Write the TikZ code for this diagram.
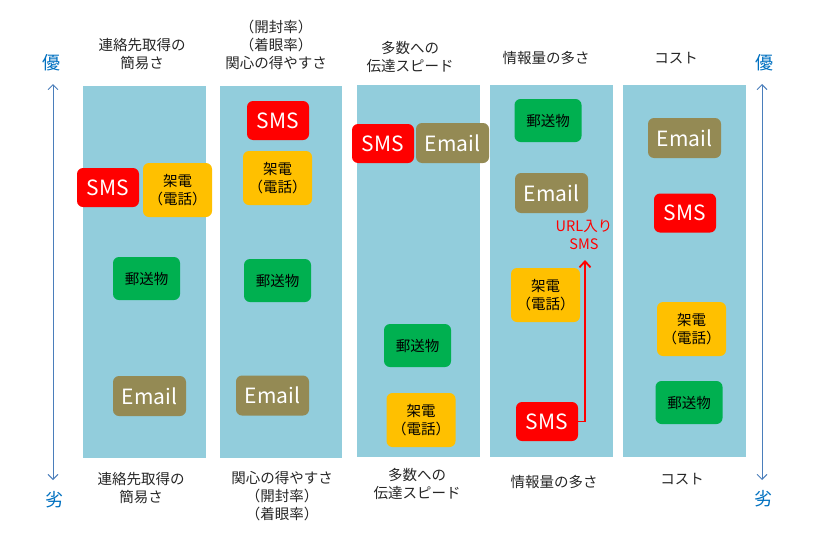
\documentclass[tikz,border=0pt]{standalone}
\usepackage{fontspec}
\setmainfont{Noto Sans CJK JP}
\usetikzlibrary{arrows.meta}
\definecolor{colbg}{HTML}{92CDDC}
\definecolor{smsred}{HTML}{FF0000}
\definecolor{telyel}{HTML}{FFC000}
\definecolor{mailgrn}{HTML}{00B050}
\definecolor{emolive}{HTML}{948A54}
\definecolor{axisblue}{HTML}{4A7EBB}
\definecolor{axistext}{HTML}{0070C0}
\definecolor{hdrtext}{HTML}{262626}
\tikzset{
  colrect/.style={fill=colbg, draw=none},
  itembox/.style={rounded corners=6pt, inner sep=0pt, draw=none, align=center},
  smsbox/.style={itembox, fill=smsred, text=white, minimum width=62pt, minimum height=39pt, font=\fontsize{21}{24}\selectfont},
  emailbox/.style={itembox, fill=emolive, text=white, minimum width=73pt, minimum height=40pt, font=\fontsize{21}{24}\selectfont},
  telbox/.style={itembox, fill=telyel, text=black, minimum width=69pt, minimum height=54pt, font=\fontsize{14.5}{18}\selectfont},
  postbox/.style={itembox, fill=mailgrn, text=black, minimum width=67pt, minimum height=43pt, font=\fontsize{14.5}{18}\selectfont},
  hdr/.style={align=center, text=hdrtext, inner sep=0pt, font=\fontsize{14.5}{18}\selectfont},
  axislbl/.style={text=axistext, inner sep=0pt, font=\fontsize{18}{20}\selectfont},
  axisarrow/.style={draw=axisblue, line width=0.9pt, {Straight Barb[length=5pt,width=10pt]}-{Straight Barb[length=5pt,width=10pt]}},
  redarrow/.style={draw=smsred, line width=1.8pt, -{Straight Barb[length=6pt,width=11pt]}},
}
\begin{document}
\begin{tikzpicture}[x=1pt,y=-1pt]
\useasboundingbox (0,0) rectangle (825,557);
% columns
\fill[colrect] (83,86) rectangle (206,458);
\fill[colrect] (220,86) rectangle (342,458);
\fill[colrect] (357,85) rectangle (480,457);
\fill[colrect] (490,85) rectangle (613,457);
\fill[colrect] (623,85) rectangle (746,457);
% headers
\node[hdr] (h1) at (142,54) {連絡先取得の\\簡易さ};
\node[hdr] (h2) at (276,45) {（開封率）\\（着眼率）\\関心の得やすさ};
\node[hdr] (h3) at (410,57) {多数への\\伝達スピード};
\node[hdr] (h4) at (546,58) {情報量の多さ};
\node[hdr] (h5) at (676,58) {コスト};
% footers
\node[hdr] (f1) at (141,488) {連絡先取得の\\簡易さ};
\node[hdr] (f2) at (282,496) {関心の得やすさ\\（開封率）\\（着眼率）};
\node[hdr] (f3) at (417,484) {多数への\\伝達スピード};
\node[hdr] (f4) at (554,482) {情報量の多さ};
\node[hdr] (f5) at (682,479) {コスト};
% axes
\coordinate (la1) at (53,84);
\coordinate (la2) at (53,480);
\coordinate (ra1) at (762,84);
\coordinate (ra2) at (762,480);
\draw[axisarrow] (la1) -- (la2);
\draw[axisarrow] (ra1) -- (ra2);
\node[axislbl] (lgood) at (51,63) {優};
\node[axislbl] (lbad) at (54,500) {劣};
\node[axislbl] (rgood) at (764,63) {優};
\node[axislbl] (rbad) at (763,499) {劣};
% column 1
\node[smsbox] (s1) at (108,187.5) {SMS};
\node[telbox] (k1) at (177.5,190) {架電\\（電話）};
\node[postbox] (y1) at (146.5,278.5) {郵送物};
\node[emailbox] (e1) at (149.5,396) {Email};
% column 2
\node[smsbox] (s2) at (278,120.5) {SMS};
\node[telbox] (k2) at (277.5,178) {架電\\（電話）};
\node[postbox] (y2) at (277.5,280.5) {郵送物};
\node[emailbox] (e2) at (272.5,395.5) {Email};
% column 3
\node[smsbox] (s3) at (383,143.5) {SMS};
\node[emailbox] (e3) at (452.5,143) {Email};
\node[postbox] (y3) at (417.5,345.5) {郵送物};
\node[telbox] (k3) at (421,420) {架電\\（電話）};
% column 4
\node[postbox] (y4) at (548,120.5) {郵送物};
\node[emailbox] (e4) at (551.5,193) {Email};
\node[telbox] (k4) at (545.5,295) {架電\\（電話）};
\node[smsbox] (s4) at (547,421.5) {SMS};
\coordinate (rbend) at (585,421.5);
\coordinate (rtip) at (585,260);
\draw[redarrow] (s4.east) -- (rbend) -- (rtip);
\node[hdr, text=smsred] (url) at (584,235) {URL入り\\SMS};
% column 5
\node[emailbox] (e5) at (684.5,138) {Email};
\node[smsbox] (s5) at (685,213) {SMS};
\node[telbox] (k5) at (691.5,329) {架電\\（電話）};
\node[postbox] (y5) at (689,402.5) {郵送物};
\end{tikzpicture}
\end{document}
